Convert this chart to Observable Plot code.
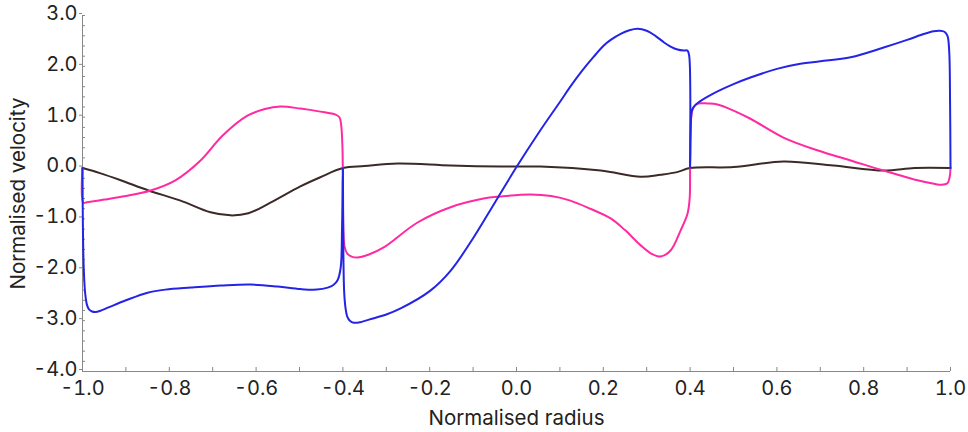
<!DOCTYPE html>
<html><head><meta charset="utf-8">
<script src="https://cdn.jsdelivr.net/npm/d3@7"></script>
<script src="https://cdn.jsdelivr.net/npm/@observablehq/plot@0.6"></script>
<style>body{margin:0;background:#fff}svg{font-family:Inter,"Noto Sans",sans-serif}</style>
</head><body><div id="chart"></div>
<script>
const blueX = [-1.0,-0.999,-0.997,-0.994,-0.99,-0.985,-0.978,-0.97,-0.96,-0.94,-0.9,-0.85,-0.809,-0.75,-0.68,-0.613,-0.55,-0.498,-0.46,-0.435,-0.422,-0.412,-0.405,-0.402,-0.4,-0.399,-0.397,-0.394,-0.39,-0.384,-0.375,-0.36,-0.34,-0.3,-0.267,-0.2,-0.152,-0.1,-0.05,0.0,0.05,0.1,0.124,0.15,0.177,0.2,0.217,0.24,0.26,0.279,0.3,0.32,0.34,0.355,0.371,0.385,0.394,0.398,0.4,0.401,0.402,0.404,0.408,0.419,0.45,0.5,0.539,0.6,0.654,0.7,0.77,0.846,0.9,0.94,0.961,0.975,0.986,0.993,0.997,0.999,1.0];
const blueY = [0.0,-1.2,-2.0,-2.45,-2.68,-2.78,-2.82,-2.83,-2.81,-2.74,-2.6,-2.45,-2.39,-2.35,-2.31,-2.29,-2.33,-2.38,-2.39,-2.35,-2.3,-2.2,-1.95,-1.2,0.0,-1.6,-2.45,-2.75,-2.92,-3.0,-3.04,-3.03,-2.98,-2.88,-2.76,-2.42,-2.02,-1.38,-0.68,0.02,0.68,1.3,1.6,1.9,2.18,2.4,2.52,2.64,2.71,2.74,2.7,2.6,2.47,2.39,2.33,2.31,2.31,2.2,0.0,0.6,0.95,1.12,1.2,1.29,1.45,1.65,1.78,1.95,2.05,2.1,2.18,2.37,2.52,2.64,2.69,2.7,2.68,2.6,2.3,1.3,0.0];
const pinkX = [-1.0,-0.998,-0.99,-0.95,-0.9,-0.843,-0.786,-0.728,-0.677,-0.62,-0.58,-0.544,-0.498,-0.452,-0.417,-0.408,-0.404,-0.401,-0.4,-0.399,-0.396,-0.39,-0.38,-0.367,-0.34,-0.306,-0.228,-0.152,-0.076,-0.037,0.032,0.08,0.124,0.17,0.217,0.25,0.286,0.31,0.332,0.355,0.378,0.394,0.399,0.4,0.401,0.404,0.41,0.419,0.44,0.463,0.5,0.539,0.615,0.693,0.77,0.846,0.924,0.962,0.98,0.993,0.998,1.0];
const pinkY = [0.0,-0.68,-0.67,-0.62,-0.55,-0.44,-0.24,0.15,0.64,1.03,1.16,1.21,1.17,1.11,1.05,1.0,0.85,0.4,-0.4,-1.2,-1.55,-1.68,-1.74,-1.76,-1.7,-1.56,-1.07,-0.77,-0.6,-0.56,-0.52,-0.55,-0.64,-0.8,-0.99,-1.22,-1.52,-1.68,-1.74,-1.62,-1.23,-0.9,-0.6,0.0,0.7,1.1,1.22,1.27,1.27,1.25,1.13,0.97,0.6,0.35,0.15,-0.05,-0.24,-0.31,-0.33,-0.3,-0.18,0.0];
const brownX = [-1.0,-0.96,-0.912,-0.848,-0.774,-0.705,-0.659,-0.618,-0.567,-0.498,-0.452,-0.4,-0.35,-0.274,-0.152,-0.037,0.055,0.194,0.286,0.332,0.37,0.4,0.5,0.615,0.73,0.846,0.917,1.0];
const brownY = [0.0,-0.1,-0.24,-0.44,-0.64,-0.87,-0.93,-0.89,-0.68,-0.36,-0.18,0.0,0.04,0.09,0.05,0.03,0.03,-0.05,-0.17,-0.13,-0.08,0.0,0.02,0.13,0.05,-0.05,0.0,0.0];
const xTicks = [-1.0,-0.8,-0.6,-0.4,-0.2,0.0,0.2,0.4,0.6,0.8,1.0];
const yTicks = [-4.0,-3.0,-2.0,-1.0,0.0,1.0,2.0,3.0];

const blue = blueX.map((x,i)=>({x, y: blueY[i]}));
const pink = pinkX.map((x,i)=>({x, y: pinkY[i]}));
const brown = brownX.map((x,i)=>({x, y: brownY[i]}));
const xMinor = d3.range(-10, 11).map(i => i/10);
const yMinor = d3.range(-20, 16).map(i => i/5);
const fmt = d => d.toFixed(1);

const chart = Plot.plot({
  width: 968, height: 432,
  marginLeft: 82, marginRight: 18, marginTop: 15, marginBottom: 61,
  style: {fontSize: "20px", fontFamily: "Inter, 'Noto Sans', sans-serif", color: "#222"},
  x: {domain: [-1, 1]},
  y: {domain: [-4, 3]},
  marks: [
    Plot.axisX({ticks: xMinor, tickSize: -4, text: null, label: null, stroke: "#888"}),
    Plot.axisX({ticks: xTicks, tickSize: 0, tickPadding: 9, tickFormat: fmt, label: null, fontSize: 20}),
    Plot.axisX({ticks: [], tickSize: 0, label: "Normalised radius", labelAnchor: "center", labelArrow: "none", labelOffset: 53, fontSize: 20.5}),
    Plot.axisY({ticks: yMinor, tickSize: -3, text: null, label: null, stroke: "#888"}),
    Plot.axisY({ticks: yTicks, tickSize: 3, tickPadding: 2, stroke: "#888", tickFormat: fmt, label: null, fontSize: 20, dy: -2}),
    Plot.axisY({ticks: [], tickSize: 0, label: "Normalised velocity", labelAnchor: "center", labelArrow: "none", labelOffset: 72, fontSize: 20.5}),
    Plot.ruleX([-1], {stroke: "#888"}),
    Plot.ruleY([-4], {stroke: "#888"}),
    Plot.line(brown, {x: "x", y: "y", stroke: "#3b2a26", strokeWidth: 2, curve: "catmull-rom"}),
    Plot.line(pink, {x: "x", y: "y", stroke: "#ff2aa0", strokeWidth: 2, curve: "catmull-rom"}),
    Plot.line(blue, {x: "x", y: "y", stroke: "#2424e6", strokeWidth: 2, curve: "catmull-rom"})
  ]
});
document.getElementById("chart").appendChild(chart);
</script></body></html>
